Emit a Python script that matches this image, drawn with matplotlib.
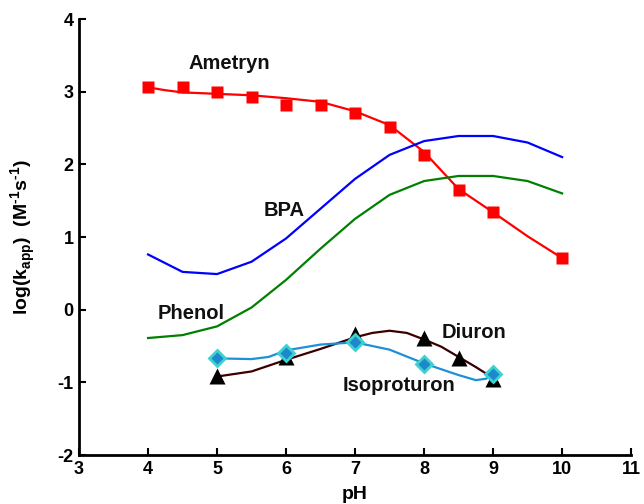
import matplotlib
matplotlib.use("Agg")
import matplotlib.pyplot as plt

plt.rcParams['font.family'] = ['Liberation Sans', 'DejaVu Sans']
plt.rcParams['axes.unicode_minus'] = False
plt.rcParams['mathtext.fontset'] = 'custom'
plt.rcParams['mathtext.rm'] = 'Liberation Sans:bold'
plt.rcParams['mathtext.bf'] = 'Liberation Sans:bold'

# Ametryn: measured points and fitted curve
ametryn_ph = [4, 4.5, 5, 5.5, 6, 6.5, 7, 7.5, 8, 8.5, 9, 10]
ametryn_k = [3.06, 3.07, 2.99, 2.92, 2.82, 2.82, 2.71, 2.51, 2.13, 1.64, 1.34, 0.71]
ametryn_fit_ph = [4, 4.25, 4.5, 5, 5.5, 6, 6.5, 7, 7.5, 8, 8.5, 9, 9.5, 10]
ametryn_fit_k = [3.06, 3.02, 2.99, 2.97, 2.95, 2.91, 2.86, 2.73, 2.54, 2.17, 1.66, 1.34, 1.01, 0.71]

# BPA and phenol (model curves only)
curve_ph = [4, 4.5, 5, 5.5, 6, 6.5, 7, 7.5, 8, 8.5, 9, 9.5, 10]
bpa_k = [0.76, 0.52, 0.49, 0.66, 0.98, 1.39, 1.80, 2.13, 2.32, 2.39, 2.39, 2.30, 2.10]
phenol_k = [-0.39, -0.35, -0.23, 0.03, 0.41, 0.84, 1.25, 1.58, 1.77, 1.84, 1.84, 1.77, 1.60]

# Diuron
diuron_ph = [5, 6, 7, 8, 8.5, 9]
diuron_k = [-0.91, -0.65, -0.33, -0.39, -0.67, -0.96]
diuron_fit_ph = [5, 5.5, 6, 6.5, 7, 7.25, 7.5, 7.75, 8, 8.25, 8.5, 8.75, 9]
diuron_fit_k = [-0.92, -0.85, -0.69, -0.54, -0.38, -0.32, -0.29, -0.32, -0.41, -0.51, -0.65, -0.79, -0.94]

# Isoproturon
iso_ph = [5, 6, 7, 8, 9]
iso_k = [-0.67, -0.59, -0.45, -0.75, -0.88]
iso_fit_ph = [5, 5.5, 5.75, 6, 6.5, 7, 7.5, 8, 8.5, 8.75, 8.9, 9]
iso_fit_k = [-0.67, -0.68, -0.65, -0.56, -0.48, -0.45, -0.55, -0.74, -0.90, -0.97, -0.95, -0.88]

fig = plt.figure(figsize=(6.44, 5.04), dpi=100)
ax = fig.add_axes([0.1227, 0.0972, 0.8573, 0.8651])

ax.plot(ametryn_fit_ph, ametryn_fit_k, color='#ff0000', lw=1.6)
ax.plot(ametryn_ph, ametryn_k, 's', color='#ff0000', ms=9, mec='none')

ax.plot(curve_ph, bpa_k, color='#0000ff', lw=1.6)
ax.plot(curve_ph, phenol_k, color='#008000', lw=1.6)

ax.plot(diuron_fit_ph, diuron_fit_k, color='#3a0000', lw=1.6)
ax.plot(diuron_ph, diuron_k, '^', color='black', ms=11, mec='none')

ax.plot(iso_fit_ph, iso_fit_k, color='#1e90d8', lw=1.6)
ax.plot(iso_ph, iso_k, 'D', mfc='#1e88cc', mec='#3fd0d0', mew=2, ms=8)

# curve labels
lab_kw = dict(fontsize=14.5, fontweight='bold', ha='center', va='center', color='#111111')
ax.text(5.18, 3.39, 'Ametryn', **lab_kw)
ax.text(5.97, 1.37, 'BPA', **lab_kw)
ax.text(4.63, -0.05, 'Phenol', **lab_kw)
ax.text(8.72, -0.31, 'Diuron', **lab_kw)
ax.text(7.63, -1.05, 'Isoproturon', **lab_kw)

ax.set_xlim(3, 11)
ax.set_ylim(-2, 4)
ax.set_xticks(range(3, 12))
ax.set_yticks(range(-2, 5))
ax.tick_params(direction='in', length=5, width=1.5, labelsize=13, pad=4)
for lab in ax.get_xticklabels() + ax.get_yticklabels():
    lab.set_fontweight('bold')

ax.spines['top'].set_visible(False)
ax.spines['right'].set_visible(False)
ax.spines['left'].set_linewidth(2)
ax.spines['bottom'].set_linewidth(2)

ax.set_xlabel('pH', fontsize=14, fontweight='bold', labelpad=6)
ax.set_ylabel(r'log(k$_{\mathrm{app}}$)  (M$^{\text{-1}}$s$^{\text{-1}}$)',
              fontsize=14, fontweight='bold', labelpad=14)

fig.savefig('out.png', dpi=100)
